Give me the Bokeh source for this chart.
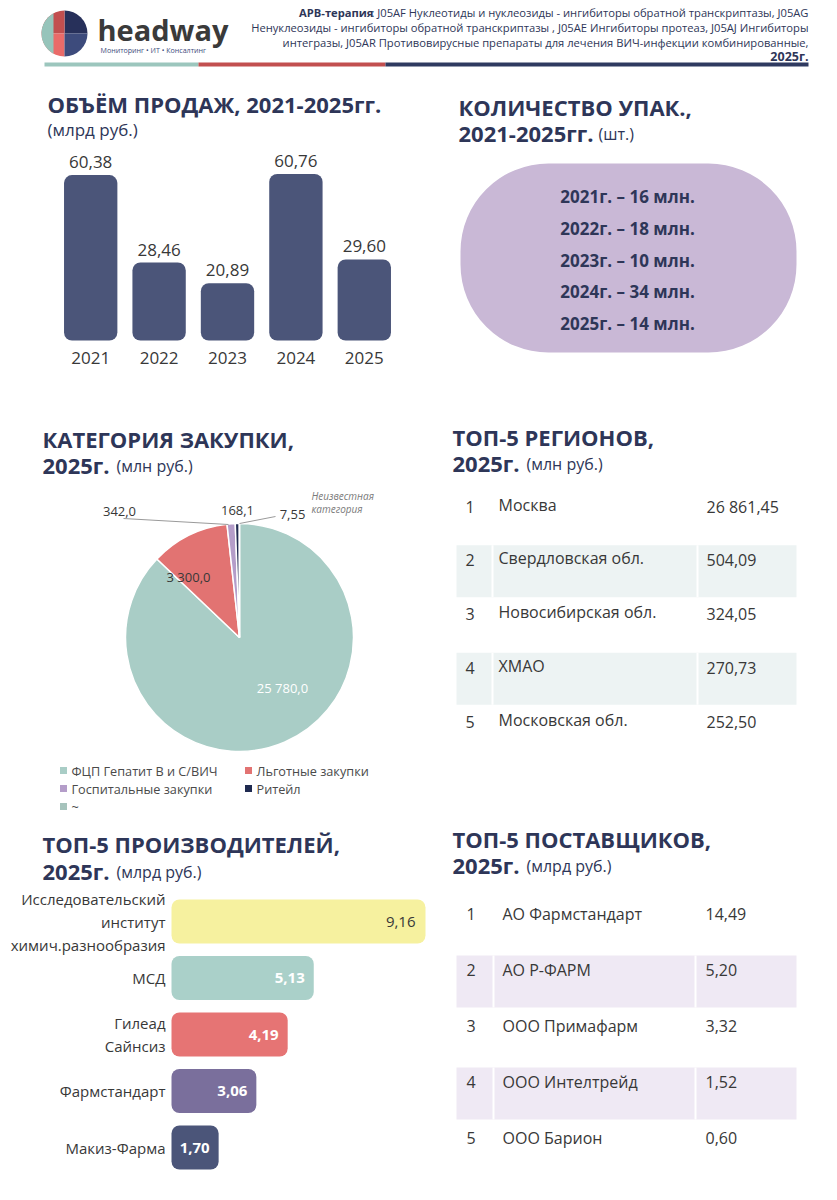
import numpy as np
from bokeh.plotting import figure
from bokeh.models import Range1d
from bokeh.core.properties import value
from bokeh.embed import file_html
from bokeh.resources import INLINE

# ---------------- DATA ----------------
years = ["2021", "2022", "2023", "2024", "2025"]
sales_bln = [60.38, 28.46, 20.89, 60.76, 29.60]
packs_mln = [16, 18, 10, 34, 14]

pie_cats = ["ФЦП Гепатит В и С/ВИЧ", "Льготные закупки", "Госпитальные закупки", "Ритейл", "~"]
pie_vals = [25780.0, 3300.0, 342.0, 168.1, 7.55]

regions = ["Москва", "Свердловская обл.", "Новосибирская обл.", "ХМАО", "Московская обл."]
region_vals = [26861.45, 504.09, 324.05, 270.73, 252.50]

manufacturers = ["Исследовательский\nинститут\nхимич.разнообразия", "МСД", "Гилеад\nСайнсиз",
                 "Фармстандарт", "Макиз-Фарма"]
manuf_vals = [9.16, 5.13, 4.19, 3.06, 1.70]

suppliers = ["АО Фармстандарт", "АО Р-ФАРМ", "ООО Примафарм", "ООО Интелтрейд", "ООО Барион"]
supplier_vals = [14.49, 5.20, 3.32, 1.52, 0.60]

header_lines = [
    "Ненуклеозиды - ингибиторы обратной транскриптазы , J05AE Ингибиторы протеаз, J05AJ Ингибиторы",
    "интегразы, J05AR Противовирусные препараты для лечения ВИЧ-инфекции комбинированные,",
]

# ---------------- STYLE ----------------
FONT = "Open Sans"
TITLE = "#2e3658"
DARK = "#383838"
NAVY_BAR = "#4b5579"
PIE_COLORS = ["#a9cdc6", "#e27372", "#b49dc9", "#1f2a50", "#a6c3bc"]
MANUF_COLORS = ["#f6f19f", "#aad0c9", "#e67474", "#7a6f9c", "#4b5579"]


def ru(v, d=2):
    s = f"{v:,.{d}f}"
    return s.replace(",", " ").replace(".", ",")


p = figure(width=821, height=1184, x_range=Range1d(0, 821), y_range=Range1d(1184, 0),
           output_backend="svg", toolbar_location=None, min_border=0,
           x_axis_location=None, y_axis_location=None)
p.grid.visible = False
p.outline_line_color = None
p.background_fill_color = "white"
p.border_fill_color = "white"


def txt(target, x, y, s, size=14, color=DARK, style="normal", align="left",
        baseline="middle", **kw):
    target.text(x=x if isinstance(x, list) else [x], y=y if isinstance(y, list) else [y],
                text=s if isinstance(s, list) else [s], text_font=value(FONT),
                text_font_size=f"{size}px", text_color=color, text_font_style=style,
                text_align=align, text_baseline=baseline, **kw)


# ---------------- HEADER ----------------
cx, cy, r = 64, 33, 23
p.wedge(x=[cx] * 4, y=[cy] * 4, radius=r,
        start_angle=[0, np.pi / 2, np.pi, 1.5 * np.pi],
        end_angle=[np.pi / 2, np.pi, 1.5 * np.pi, 2 * np.pi],
        fill_color=["#27305a", "#c24f4f", "#ea6b69", "#3d4b7c"], line_color=None)
th = np.linspace(np.arccos((53 - cx) / r), 2 * np.pi - np.arccos((53 - cx) / r), 40)
p.patch(x=cx + r * np.cos(th), y=cy + r * np.sin(th), fill_color="#96c4ba", line_color=None)
txt(p, 97, 29, "headway", size=29, color="#3a3a3a", style="bold")
txt(p, 100, 49, "Мониторинг • ИТ • Консалтинг", size=7.1, color="#3d4b7c")

p.segment(x0=[44, 198, 385], y0=[64] * 3, x1=[198, 385, 808], y1=[64] * 3,
          line_color=["#9cc6bd", "#c24f4f", "#2f3a60"], line_width=4)

txt(p, 373, 12, "АРВ-терапия", size=11.2, color=TITLE, style="bold", align="right")
txt(p, 808, 12, ": J05AF Нуклеотиды и нуклеозиды - ингибиторы обратной транскриптазы, J05AG",
    size=11.2, color=TITLE, align="right")
txt(p, 808, 27, header_lines[0], size=11.2, color=TITLE, align="right")
txt(p, 808, 42, header_lines[1], size=11.2, color=TITLE, align="right")
txt(p, 808, 56, "2025г.", size=12.5, color=TITLE, style="bold", align="right")

# ---------------- SALES BARS ----------------
txt(p, 47, 103, "ОБЪЁМ ПРОДАЖ, 2021-2025гг.", size=22, color=TITLE, style="bold")
txt(p, 47, 129, "(млрд руб.)", size=17, color=TITLE)

idx = list(range(len(years)))
sb = p.subplot(x_source=Range1d(-0.5, 4.5), y_source=Range1d(0, 70),
               x_target=Range1d(56, 398), y_target=Range1d(340, 340 - 70 * 2.74))
sb.vbar(x=idx, top=sales_bln, width=0.78, bottom=0, fill_color=NAVY_BAR, line_color=None,
        border_radius=8)
sb.text(x=idx, y=sales_bln, text=[ru(v) for v in sales_bln], y_offset=-7,
        text_align="center", text_baseline="bottom", text_font=value(FONT),
        text_font_size="17px", text_color=DARK)
sb.text(x=idx, y=[0] * 5, text=years, y_offset=17, text_align="center",
        text_baseline="middle", text_font=value(FONT), text_font_size="17px", text_color=DARK)

# ---------------- PACKAGES ----------------
txt(p, 458, 106, "КОЛИЧЕСТВО УПАК.,", size=22, color=TITLE, style="bold")
txt(p, 458, 132, "2021-2025гг.", size=22, color=TITLE, style="bold")
txt(p, 598, 133, "(шт.)", size=16, color=TITLE)
p.quad(left=[460], right=[796], top=[163], bottom=[352], fill_color="#c9b8d6",
       line_color=None, border_radius=88)
pk_y = [196 + i * 31.75 for i in range(len(years))]
txt(p, [627] * 5, pk_y, [f"{y}г. – {v} млн." for y, v in zip(years, packs_mln)],
    size=17, color=TITLE, style="bold", align="center")

# ---------------- PIE ----------------
txt(p, 42, 438, "КАТЕГОРИЯ ЗАКУПКИ,", size=22, color=TITLE, style="bold")
txt(p, 42, 464, "2025г.", size=22, color=TITLE, style="bold")
txt(p, 116, 465, "(млн руб.)", size=16, color=TITLE)

pv = np.array(pie_vals)
cum = np.concatenate([[0], np.cumsum(pv / pv.sum())])
p.wedge(x=239, y=637, radius=114, start_angle=np.pi / 2 - cum[:-1] * 2 * np.pi,
        end_angle=np.pi / 2 - cum[1:] * 2 * np.pi, direction="clock",
        fill_color=PIE_COLORS, line_color="white", line_width=1.5)
txt(p, 282, 687, ru(pie_vals[0], 1), size=13, color="white", align="center")
txt(p, 188, 576, ru(pie_vals[1], 1), size=13, color=DARK, align="center")
txt(p, 119, 511, ru(pie_vals[2], 1), size=13, color=DARK, align="center")
txt(p, 237, 510, ru(pie_vals[3], 1), size=13, color=DARK, align="center")
txt(p, 292, 514, ru(pie_vals[4], 2), size=13, color=DARK, align="center")
p.segment(x0=[123, 275], y0=[518, 516], x1=[228, 239], y1=[524, 523],
          line_color="#9a9a9a", line_width=1)
txt(p, 311, 495, "Неизвестная", size=10, color="#7a7a7a", style="italic")
txt(p, 311, 508, "категория", size=10, color="#7a7a7a", style="italic")

leg_x = [63, 248, 63, 248, 63]
leg_y = [770, 770, 788, 788, 806]
p.scatter(x=leg_x, y=leg_y, marker="square", size=7, fill_color=PIE_COLORS, line_color=None)
txt(p, [x + 8 for x in leg_x], leg_y, pie_cats, size=12.7, color="#4a4a4a")

# ---------------- REGIONS TABLE ----------------
txt(p, 452, 436, "ТОП-5 РЕГИОНОВ,", size=22, color=TITLE, style="bold")
txt(p, 452, 462, "2025г.", size=22, color=TITLE, style="bold")
txt(p, 526, 463, "(млн руб.)", size=16, color=TITLE)

reg_y = [504 + i * 53.75 for i in range(len(regions))]
stripe = [reg_y[i] for i in (1, 3)]
p.quad(left=456, right=796, top=[y - 13 for y in stripe], bottom=[y + 39 for y in stripe],
       fill_color="#edf3f3", line_color=None)
p.segment(x0=[492, 697, 492, 697], x1=[492, 697, 492, 697],
          y0=[stripe[0] - 13, stripe[0] - 13, stripe[1] - 13, stripe[1] - 13],
          y1=[stripe[0] + 39, stripe[0] + 39, stripe[1] + 39, stripe[1] + 39],
          line_color="white", line_width=2)
txt(p, [465] * 5, [y + 2 for y in reg_y], [str(i + 1) for i in range(5)], size=16, color=DARK)
txt(p, [498] * 5, reg_y, regions, size=16, color=DARK)
txt(p, [706] * 5, [y + 2 for y in reg_y], [ru(v) for v in region_vals], size=16, color=DARK)

# ---------------- MANUFACTURERS ----------------
txt(p, 42, 843, "ТОП-5 ПРОИЗВОДИТЕЛЕЙ,", size=22, color=TITLE, style="bold")
txt(p, 42, 870, "2025г.", size=22, color=TITLE, style="bold")
txt(p, 116, 871, "(млрд руб.)", size=16, color=TITLE)

midx = list(range(len(manufacturers)))
mb = p.subplot(x_source=Range1d(0, 9.16), y_source=Range1d(-0.5, 4.5),
               x_target=Range1d(171, 425), y_target=Range1d(892.75, 1175.25))
mb.hbar(y=midx, left=0, right=manuf_vals, height=0.78, fill_color=MANUF_COLORS,
        line_color=None, border_radius=8)
mb.text(x=[0] * 5, y=midx, text=manufacturers, x_offset=-6, text_align="right",
        text_baseline="middle", text_font=value(FONT), text_font_size="15px",
        text_color=DARK, text_line_height=1.15)
mb.text(x=manuf_vals[:1], y=midx[:1], text=[ru(v) for v in manuf_vals[:1]], x_offset=-10,
        text_align="right", text_baseline="middle", text_font=value(FONT),
        text_font_size="15px", text_color=DARK)
mb.text(x=manuf_vals[1:], y=midx[1:], text=[ru(v) for v in manuf_vals[1:]], x_offset=-9,
        text_align="right", text_baseline="middle", text_font=value(FONT),
        text_font_size="15px", text_color="white", text_font_style="bold")

# ---------------- SUPPLIERS TABLE ----------------
txt(p, 452, 838, "ТОП-5 ПОСТАВЩИКОВ,", size=22, color=TITLE, style="bold")
txt(p, 452, 864, "2025г.", size=22, color=TITLE, style="bold")
txt(p, 526, 865, "(млрд руб.)", size=16, color=TITLE)

sup_y = [913 + i * 56 for i in range(len(suppliers))]
stripe = [sup_y[i] for i in (1, 3)]
p.quad(left=456, right=796, top=[y - 14 for y in stripe], bottom=[y + 38 for y in stripe],
       fill_color="#efe9f4", line_color=None)
p.segment(x0=[493, 695, 493, 695], x1=[493, 695, 493, 695],
          y0=[stripe[0] - 14, stripe[0] - 14, stripe[1] - 14, stripe[1] - 14],
          y1=[stripe[0] + 38, stripe[0] + 38, stripe[1] + 38, stripe[1] + 38],
          line_color="white", line_width=2)
txt(p, [466] * 5, sup_y, [str(i + 1) for i in range(5)], size=16, color=DARK)
txt(p, [502] * 5, sup_y, suppliers, size=16, color=DARK)
txt(p, [705] * 5, sup_y, [ru(v) for v in supplier_vals], size=16, color=DARK)

open("out.html", "w").write(file_html(p, INLINE))
